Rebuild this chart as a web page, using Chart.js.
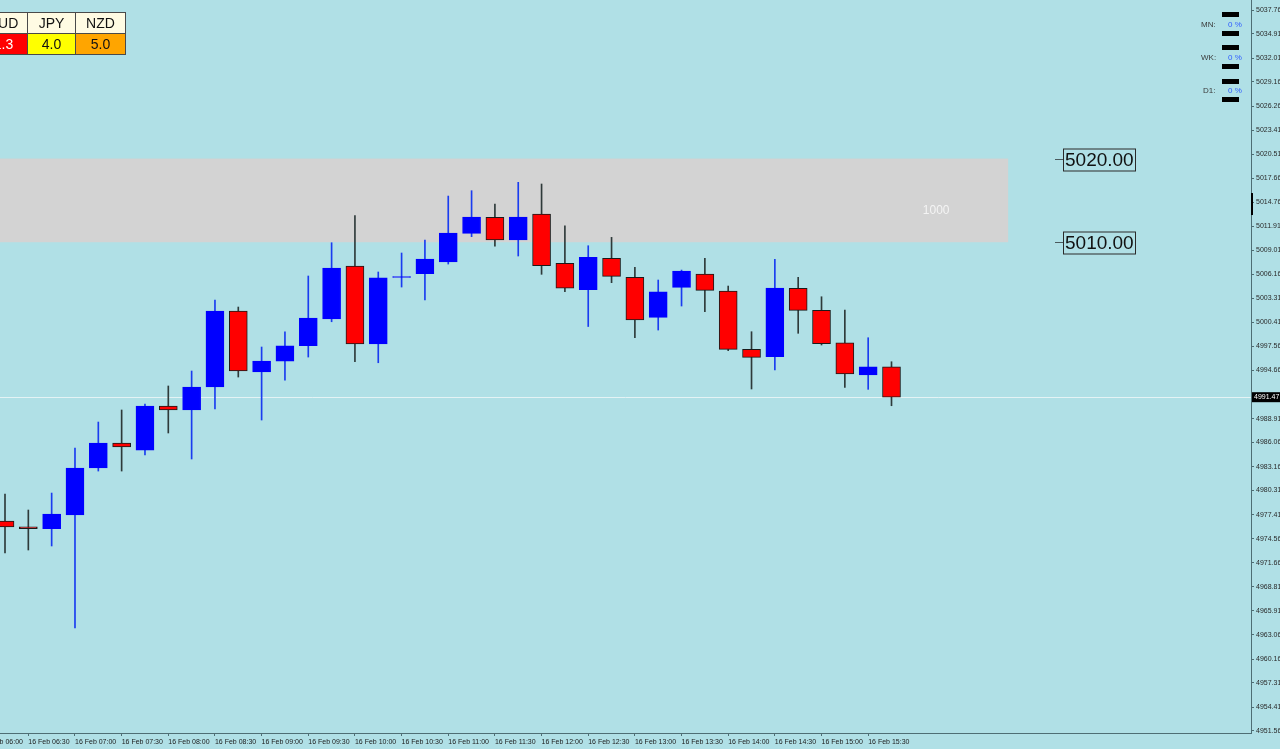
<!DOCTYPE html>
<html lang="en">
<head>
<meta charset="UTF-8">
<title>US500 M15</title>
<script src="https://cdn.jsdelivr.net/npm/chart.js@4.4.0/dist/chart.umd.min.js"></script>
<style>
  body { margin: 0; background: #b0e0e6; overflow: hidden; }
  #wrap { position: relative; width: 1280px; height: 749px; }
  #chart { position: absolute; left: 0; top: 0; }
  #meter { position: absolute; left: -21px; top: 12px; border-collapse: collapse; }
  #meter td { border: 1px solid #4a4a4a; height: 20px; padding: 0; text-align: center;
              font: 14px "Liberation Sans", Arial, sans-serif; color: #111; }
  #meter tr.head td { background: #fffbe3; }
  .lbl { position: absolute; font: 8px "Liberation Sans", Arial, sans-serif; color: #3a3a3a; }
  .pct { position: absolute; font: 8px "Liberation Sans", Arial, sans-serif; color: #2f5cff; }
  .bar { position: absolute; left: 1222px; width: 17px; height: 5px; background: #000; }
</style>
</head>
<body>
<div id="wrap">
  <canvas id="chart" width="1280" height="749"></canvas>

  <table id="meter">
    <tr class="head"><td style="width:47px">AUD</td><td style="width:47px">JPY</td><td style="width:49px">NZD</td></tr>
    <tr><td style="background:#ff0000;color:#fff">1.3</td><td style="background:#ffff00">4.0</td><td style="background:#ffa500">5.0</td></tr>
  </table>

  <div class="bar" style="top:12px"></div>
  <div class="lbl" style="left:1201px;top:20px">MN:</div>
  <div class="pct" style="left:1228px;top:20px">0 %</div>
  <div class="bar" style="top:31px"></div>
  <div class="bar" style="top:45px"></div>
  <div class="lbl" style="left:1201px;top:53px">WK:</div>
  <div class="pct" style="left:1228px;top:53px">0 %</div>
  <div class="bar" style="top:64px"></div>
  <div class="bar" style="top:79px"></div>
  <div class="lbl" style="left:1203px;top:86px">D1:</div>
  <div class="pct" style="left:1228px;top:86px">0 %</div>
  <div class="bar" style="top:97px"></div>
</div>

<script>
// 15 minute candles, 16 Feb
var times = ["06:15", "06:30", "06:45", "07:00", "07:15", "07:30", "07:45", "08:00", "08:15", "08:30",
             "08:45", "09:00", "09:15", "09:30", "09:45", "10:00", "10:15", "10:30", "10:45", "11:00",
             "11:15", "11:30", "11:45", "12:00", "12:15", "12:30", "12:45", "13:00", "13:15", "13:30",
             "13:45", "14:00", "14:15", "14:30", "14:45", "15:00", "15:15", "15:30", "15:45"];

var opens  = [4976.67, 4975.98, 4975.75, 4977.38, 4983.00, 4985.99, 4985.15, 4990.41, 4989.94, 4992.69,
              5001.77, 4994.48, 4995.79, 4997.62, 5000.82, 5007.15, 4997.83, 5005.78, 5006.23, 5007.63,
              5011.06, 5012.98, 5010.26, 5013.37, 5007.48, 5004.34, 5008.07, 5005.80, 5001.02, 5004.61,
              5006.20, 5004.16, 4997.19, 4996.31, 5004.49, 5001.86, 4997.98, 4994.12, 4995.11];
var highs  = [4979.89, 4977.98, 4980.01, 4985.39, 4988.50, 4989.94, 4990.65, 4992.81, 4994.60, 5003.09,
              5002.25, 4997.47, 4999.30, 5005.96, 5009.94, 5013.17, 5006.44, 5008.71, 5010.26, 5015.52,
              5016.16, 5014.57, 5017.16, 5016.96, 5011.97, 5009.58, 5010.58, 5007.00, 5005.48, 5006.67,
              5008.07, 5004.76, 4999.30, 5007.95, 5005.80, 5003.48, 5001.89, 4998.58, 4995.71];
var lows   = [4972.84, 4973.20, 4973.68, 4963.87, 4982.64, 4982.64, 4984.56, 4987.19, 4984.08, 4990.06,
              4993.88, 4988.74, 4993.52, 4996.27, 5000.49, 4995.71, 4995.59, 5004.64, 5003.09, 5007.39,
              5010.66, 5009.54, 5008.35, 5006.16, 5004.08, 4999.92, 5005.16, 4998.58, 4999.50, 5002.37,
              5001.69, 4997.03, 4992.45, 4994.72, 4999.11, 4997.71, 4992.65, 4992.41, 4990.45];
var closes = [4975.95, 4975.75, 4977.50, 4983.00, 4985.99, 4985.51, 4990.41, 4989.94, 4992.69, 5001.77,
              4994.60, 4995.79, 4997.62, 5000.94, 5006.91, 4997.83, 5005.75, 5005.86, 5007.99, 5011.10,
              5013.01, 5010.26, 5013.01, 5007.19, 5004.52, 5008.19, 5005.92, 5000.70, 5004.08, 5006.56,
              5004.25, 4997.19, 4996.24, 5004.52, 5001.86, 4997.86, 4994.24, 4995.11, 4991.47];

var xTickLabels = ["16 Feb 06:00", "16 Feb 06:30", "16 Feb 07:00", "16 Feb 07:30", "16 Feb 08:00",
                   "16 Feb 08:30", "16 Feb 09:00", "16 Feb 09:30", "16 Feb 10:00", "16 Feb 10:30",
                   "16 Feb 11:00", "16 Feb 11:30", "16 Feb 12:00", "16 Feb 12:30", "16 Feb 13:00",
                   "16 Feb 13:30", "16 Feb 14:00", "16 Feb 14:30", "16 Feb 15:00", "16 Feb 15:30"];

var yTicks = [5037.76, 5034.91, 5032.01, 5029.16, 5026.26, 5023.41, 5020.51, 5017.66, 5014.76, 5011.91,
              5009.01, 5006.16, 5003.31, 5000.41, 4997.56, 4994.66, 4988.91, 4986.06, 4983.16, 4980.31,
              4977.41, 4974.56, 4971.66, 4968.81, 4965.91, 4963.06, 4960.16, 4957.31, 4954.41, 4951.56];

var levels = [5020.00, 5010.00];   // supply zone edges
var zoneLabel = "1000";
var zoneEndSlot = 43;              // zone drawn up to this candle slot
var axisMark = [5013.25, 5015.88]; // black marker on the price axis

var axisColor = "#4e6e74";
var tickFont = { family: "Liberation Sans", size: 7 };

function minutes(t) {
    var hm = t.slice(-5).split(":");
    return +hm[0] * 60 + +hm[1];
}
function slotOf(label) {
    return (minutes(label) - minutes(times[0])) / 15;
}

var bull = closes.map(function (c, i) { return c >= opens[i]; });

var overlay = {
    id: "overlay",
    beforeDatasetsDraw: function (chart) {
        var ctx = chart.ctx, xs = chart.scales.x, ys = chart.scales.y;
        var a = chart.chartArea;
        var top = ys.getPixelForValue(levels[0]), bot = ys.getPixelForValue(levels[1]);
        var xEnd = xs.getPixelForValue(zoneEndSlot);
        ctx.save();
        ctx.fillStyle = "#d3d3d3";
        ctx.fillRect(a.left, top, xEnd - a.left, bot - top);
        ctx.fillStyle = "#f4f4f4";
        ctx.font = "12px 'Liberation Sans'";
        ctx.textAlign = "center";
        ctx.textBaseline = "middle";
        ctx.fillText(zoneLabel, xEnd - 72, (top + bot) / 2 + 10);
        // current price line
        var py = Math.round(ys.getPixelForValue(closes[closes.length - 1])) + 0.5;
        ctx.strokeStyle = "#e4f3f5";
        ctx.lineWidth = 1;
        ctx.beginPath();
        ctx.moveTo(a.left, py);
        ctx.lineTo(a.right, py);
        ctx.stroke();
        ctx.restore();
    },
    afterDraw: function (chart) {
        var ctx = chart.ctx, ys = chart.scales.y, a = chart.chartArea;
        ctx.save();
        levels.forEach(function (lv) {
            var y = Math.round(ys.getPixelForValue(lv)) + 0.5;
            ctx.strokeStyle = "#4a5a5e";
            ctx.lineWidth = 1;
            ctx.beginPath();
            ctx.moveTo(1055, y);
            ctx.lineTo(1063, y);
            ctx.stroke();
            ctx.strokeStyle = "#2a2a2a";
            ctx.strokeRect(1063.5, y - 10.5, 72, 22);
            ctx.fillStyle = "#111";
            ctx.font = "19px 'Liberation Sans'";
            ctx.textAlign = "left";
            ctx.textBaseline = "middle";
            ctx.fillText(lv.toFixed(2), 1065, y + 1);
        });
        // price tag
        var last = closes[closes.length - 1];
        var py = ys.getPixelForValue(last);
        ctx.fillStyle = "#000";
        ctx.fillRect(a.right + 1, py - 5, 29, 10);
        ctx.fillStyle = "#fff";
        ctx.font = "7px 'Liberation Sans'";
        ctx.textBaseline = "middle";
        ctx.fillText(last.toFixed(2), a.right + 3, py);
        // axis marker
        ctx.fillStyle = "#000";
        ctx.fillRect(a.right, ys.getPixelForValue(axisMark[1]), 2, ys.getPixelForValue(axisMark[0]) - ys.getPixelForValue(axisMark[1]));
        ctx.restore();
    }
};

var ctx = document.getElementById("chart").getContext("2d");
var chart = new Chart(ctx, {
    type: "bar",
    data: {
        datasets: [{
            label: "body",
            data: times.map(function (t, i) { return { x: i, y: [opens[i], closes[i]] }; }),
            backgroundColor: bull.map(function (b) { return b ? "#0000ff" : "#ff0000"; }),
            borderColor: bull.map(function (b) { return b ? "#0000ff" : "#1a1a1a"; }),
            borderWidth: 1,
            borderSkipped: false,
            barThickness: 18,
            minBarLength: 1,
            grouped: false
        }, {
            label: "wick",
            data: times.map(function (t, i) { return { x: i, y: [lows[i], highs[i]] }; }),
            backgroundColor: bull.map(function (b) { return b ? "#1a3cf0" : "#2e3a3a"; }),
            borderWidth: 0,
            barThickness: 1,
            grouped: false
        }]
    },
    options: {
        responsive: false,
        animation: false,
        devicePixelRatio: 1,
        layout: { padding: 0 },
        plugins: { legend: { display: false }, tooltip: { enabled: false } },
        scales: {
            x: {
                type: "linear",
                offset: false,
                min: -0.2143,
                max: 53.41,
                bounds: "data",
                grid: { offset: false, drawOnChartArea: false, drawTicks: true, tickLength: 3, color: axisColor },
                border: { color: axisColor },
                ticks: {
                    autoSkip: false, maxRotation: 0, align: "start", padding: 2,
                    font: tickFont, color: "#1c1c1c",
                    callback: function (v, i) { return xTickLabels[i]; }
                },
                afterBuildTicks: function (s) {
                    s.ticks = xTickLabels.map(function (l) { return { value: slotOf(l) }; });
                },
                afterFit: function (s) { s.height = 16; s.paddingLeft = 0; s.paddingRight = 0; }
            },
            y: {
                position: "right",
                min: 4951.32,
                max: 5038.96,
                grid: { drawOnChartArea: false, drawTicks: true, tickLength: 3, color: axisColor },
                border: { color: axisColor },
                ticks: {
                    autoSkip: false, padding: 2, font: tickFont, color: "#2a2a2a",
                    callback: function (v) { return v.toFixed(2); }
                },
                afterBuildTicks: function (s) {
                    s.ticks = yTicks.map(function (v) { return { value: v }; });
                },
                afterFit: function (s) { s.width = 29; s.paddingTop = 0; s.paddingBottom = 0; }
            }
        }
    },
    plugins: [overlay]
});
</script>
</body>
</html>
